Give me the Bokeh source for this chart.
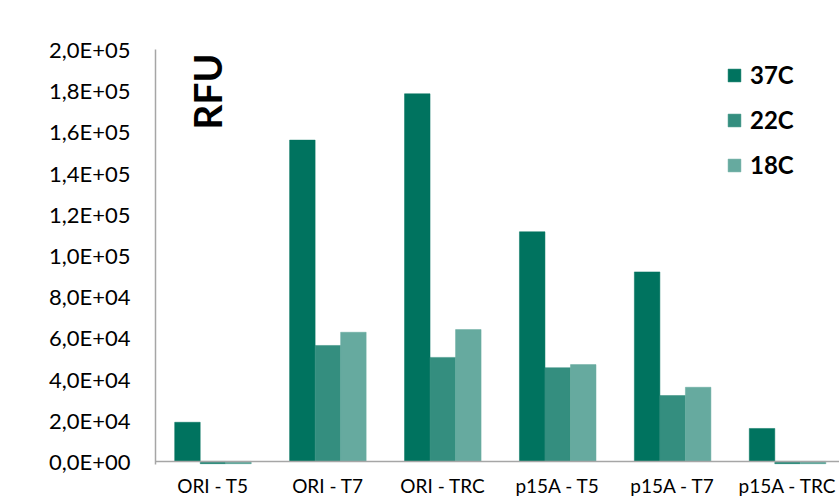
import math
from bokeh.plotting import figure
from bokeh.models import (ColumnDataSource, Range1d, FixedTicker, Span, Label,
                          Legend, LegendItem)
from bokeh.embed import file_html
from bokeh.resources import INLINE

categories = ["ORI - T5", "ORI - T7", "ORI - TRC", "p15A - T5", "p15A - T7", "p15A - TRC"]
series_names = ["37C", "22C", "18C"]
values_37C = [19000, 156000, 178500, 111500, 92000, 16000]
values_22C = [-1200, 56300, 50500, 45500, 32000, -1200]
values_18C = [-1200, 62700, 64000, 47000, 36000, -1200]
y_ticks = [0, 20000, 40000, 60000, 80000, 100000, 120000, 140000, 160000, 180000, 200000]
y_tick_labels = ["0,0E+00", "2,0E+04", "4,0E+04", "6,0E+04", "8,0E+04", "1,0E+05",
                 "1,2E+05", "1,4E+05", "1,6E+05", "1,8E+05", "2,0E+05"]

colors = ["#00735f", "#348e7f", "#66aa9f"]
series_values = [values_37C, values_22C, values_18C]

font = "Lato"

p = figure(width=839, height=499, output_backend="svg", toolbar_location=None,
           x_range=Range1d(0, 5.952), y_range=Range1d(-1500, 200000),
           min_border_left=155, min_border_right=0, min_border_top=49,
           min_border_bottom=30)
p.outline_line_color = None
p.grid.grid_line_color = None
p.background_fill_color = "white"
p.border_fill_color = "white"

bar_w = 0.222
offsets = [-bar_w, 0.0, bar_w]
renderers = []
for name, vals, col, off in zip(series_names, series_values, colors, offsets):
    src = ColumnDataSource(dict(x=[i + 0.5 + off for i in range(len(categories))],
                                top=vals))
    r = p.vbar(x="x", top="top", bottom=0, width=bar_w, source=src,
               fill_color=col, line_color=col, line_width=0.5)
    renderers.append(r)

# x axis
p.xaxis.ticker = FixedTicker(ticks=[i + 0.5 for i in range(len(categories))])
p.xaxis.major_label_overrides = {i + 0.5: c for i, c in enumerate(categories)}
p.xaxis.axis_line_color = None
p.xaxis.major_tick_line_color = None
p.xaxis.minor_tick_line_color = None
p.xaxis.major_tick_out = 0
p.xaxis.major_label_standoff = 9
p.xaxis.major_label_text_font = font
p.xaxis.major_label_text_font_size = "19px"
p.xaxis.major_label_text_color = "black"

# y axis
p.yaxis.ticker = FixedTicker(ticks=y_ticks)
p.yaxis.major_label_overrides = {t: l for t, l in zip(y_ticks, y_tick_labels)}
p.yaxis.axis_line_color = "#a6a6a6"
p.yaxis.axis_line_width = 1.5
p.yaxis.major_tick_line_color = None
p.yaxis.minor_tick_line_color = None
p.yaxis.major_tick_out = 0
p.yaxis.major_label_standoff = 25
p.yaxis.major_label_text_font = font
p.yaxis.major_label_text_font_size = "22px"
p.yaxis.major_label_text_color = "black"

zero_line = Span(location=0, dimension="width", line_color="#a6a6a6", line_width=1.5)
p.add_layout(zero_line)

rfu = Label(x=0.448, y=179500, text="RFU", angle=math.pi / 2,
            text_font=font, text_font_style="bold", text_font_size="39px",
            text_align="center", text_baseline="middle", text_color="black")
p.add_layout(rfu)

legend = Legend(items=[LegendItem(label=n, renderers=[r]) for n, r in zip(series_names, renderers)],
                location=(571, 285), orientation="vertical",
                glyph_width=16, glyph_height=16, label_text_font=font,
                label_text_font_style="bold", label_text_font_size="24px",
                label_text_color="black",
                label_standoff=8, spacing=16, padding=0, margin=0,
                border_line_color=None, background_fill_alpha=0)
p.add_layout(legend)

open("out.html", "w").write(file_html(p, INLINE))
